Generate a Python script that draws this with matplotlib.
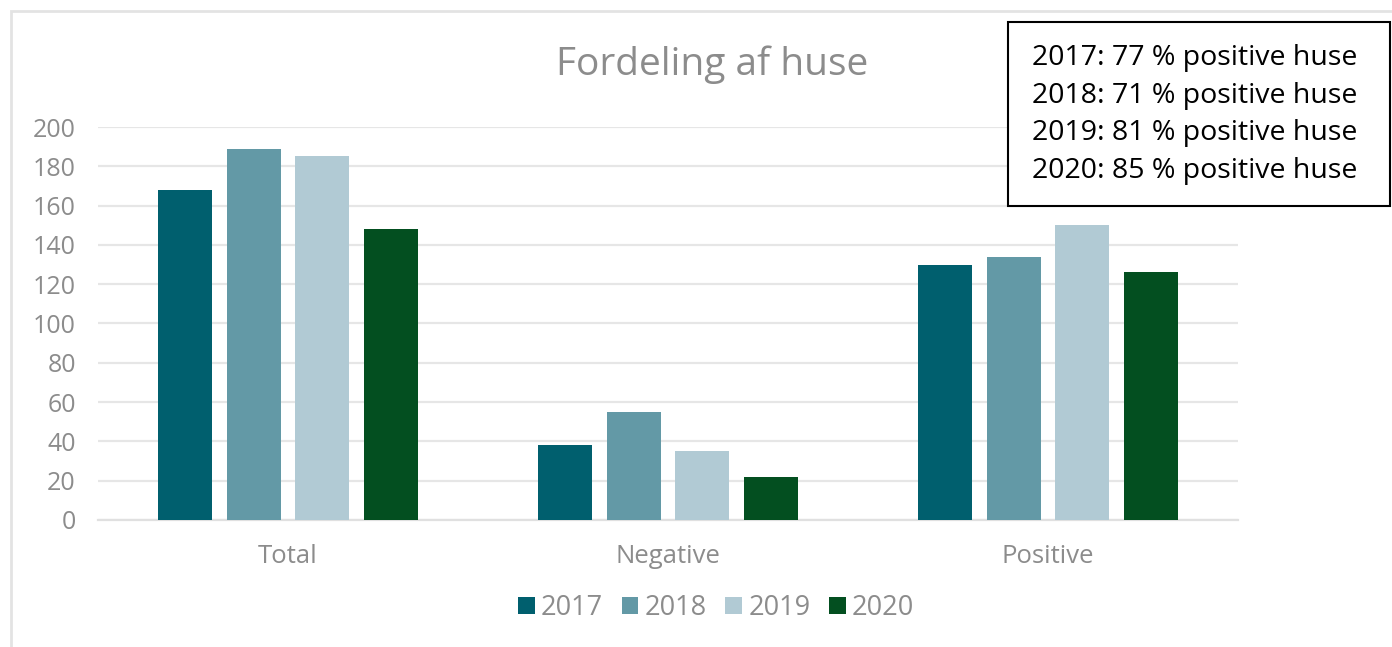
import numpy as np
import matplotlib.pyplot as plt
from matplotlib.patches import Rectangle

categories = ['Total', 'Negative', 'Positive']
years = ['2017', '2018', '2019', '2020']
values = {
    '2017': [168, 38, 130],
    '2018': [189, 55, 134],
    '2019': [185, 35, 150],
    '2020': [148, 22, 126],
}
colors = ['#005f6e', '#6399a6', '#b1cad4', '#034f20']
yticks = list(range(0, 201, 20))
note_lines = [
    '2017: 77 % positive huse',
    '2018: 71 % positive huse',
    '2019: 81 % positive huse',
    '2020: 85 % positive huse',
]

plt.rcParams['font.family'] = ['Open Sans', 'DejaVu Sans']
grey = '#8c8c8c'

fig = plt.figure(figsize=(13.92, 6.47), dpi=100)
ax = fig.add_axes([98 / 1392, 0.1963, 0.8190, 0.6074])

# outer chart border (only the top and left edges fall inside the image)
fig.patches.append(Rectangle((11 / 1392, -0.1), 1.2, 1.1 - 11 / 647,
                             transform=fig.transFigure, fill=False,
                             edgecolor='#e3e3e3', linewidth=2))

x = np.arange(len(categories))
width = 0.142
step = 0.18
for i, (year, color) in enumerate(zip(years, colors)):
    ax.bar(x + (i - 1.5) * step, values[year], width, color=color,
           label=year, zorder=3)

ax.set_xlim(-0.5, 2.5)
ax.set_ylim(0, 200)
ax.set_yticks(yticks)
ax.yaxis.grid(True, color='#e6e6e6', linewidth=1.6, zorder=0)
ax.set_xticks(x)
ax.set_xticklabels(categories)
ax.tick_params(axis='both', length=0, labelsize=18, labelcolor=grey)
ax.tick_params(axis='x', labelsize=18.5, pad=17)
ax.tick_params(axis='y', pad=16)
for side in ['top', 'right', 'left']:
    ax.spines[side].set_visible(False)
ax.spines['bottom'].set_color('#e0e0e0')
ax.spines['bottom'].set_linewidth(1.6)

fig.text(712 / 1392, 1 - 65 / 647, 'Fordeling af huse', ha='center',
         va='center', fontsize=28, color=grey)

fig.legend(loc='center', bbox_to_anchor=(716 / 1392, 1 - 608 / 647), ncol=4,
           frameon=False, fontsize=19.5, labelcolor=grey, handlelength=0.62,
           handleheight=0.62, handletextpad=0.22, columnspacing=0.7)

# note box with the share of positive houses per year
fig.patches.append(Rectangle((1008 / 1392, 1 - 206 / 647), 382 / 1392,
                             184 / 647, transform=fig.transFigure,
                             facecolor='white', edgecolor='black',
                             linewidth=1.5, zorder=5))
for k, line in enumerate(note_lines):
    fig.text(1032 / 1392, 1 - (58 + 37.7 * k) / 647, line, ha='left',
             va='center', fontsize=20.5, color='black', zorder=6)

fig.savefig('out.png', dpi=100)
